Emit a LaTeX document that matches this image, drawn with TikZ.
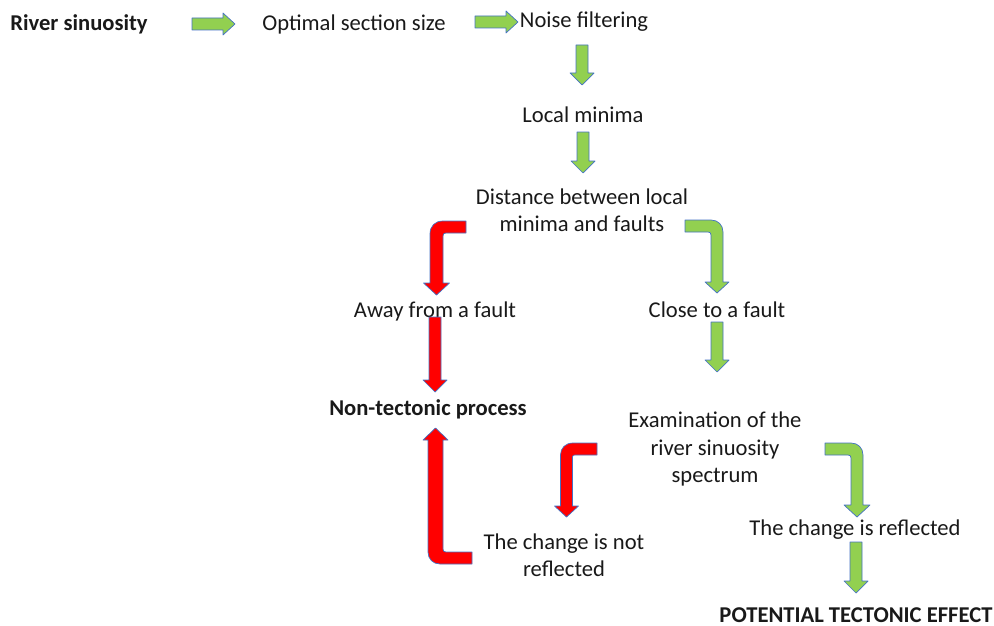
\documentclass[tikz,border=0pt]{standalone}
\usepackage{fontspec}
\setmainfont{Carlito}
\usetikzlibrary{positioning, calc}
\definecolor{arrowgreen}{RGB}{146,208,80}
\definecolor{arrowred}{RGB}{255,0,0}
\definecolor{arrowedge}{RGB}{68,114,196}

\begin{document}
\begin{tikzpicture}[x=1pt, y=-1pt,
            txt/.style={align=center, inner sep=0pt, text=black!90, font=\fontsize{22.6}{27.5}\selectfont},
            txtbold/.style={txt, font=\fontsize{22.6}{27.5}\selectfont\bfseries},
            greenblock/.style={fill=arrowgreen, draw=arrowedge, line width=0.7pt, line join=round},
            redblock/.style={fill=arrowred, draw=arrowedge, line width=0.7pt, line join=round}
        ]
            \useasboundingbox (0,0) rectangle (994,626);

            % Top row
            \node[txtbold] (river) at (79,24) {River sinuosity};
            \node[txt] (section) at (354,24) {Optimal section size};
            \node[txt] (noise) at (584,22) {Noise filtering};

            % Middle column
            \node[txt] (minima) at (583,115) {Local minima};
            \node[txt] (distance) at (582,210) {Distance between local\\minima and faults};

            % Away branch
            \node[txt] (away) at (435,311) {Away from a fault};
            \node[txtbold] (nontect) at (428,409) {Non-tectonic process};

            % Close branch
            \node[txt] (close) at (717,310) {Close to a fault};
            \node[txt] (exam) at (715,449) {Examination of the\\river sinuosity\\spectrum};
            \node[txt] (notrefl) at (564,555) {The change is not\\reflected};
            \node[txt] (refl) at (855,530) {The change is reflected};
            \node[txtbold] (effect) at (856,615) {POTENTIAL TECTONIC EFFECT};

            % Straight block arrows, right
            \foreach \xa/\xb/\y in {192/235/24, 475/518/22}
                \draw[greenblock] (\xa,{\y-6}) -- ({\xb-12},{\y-6}) -- ({\xb-12},{\y-11}) -- (\xb,\y)
                    -- ({\xb-12},{\y+11}) -- ({\xb-12},{\y+6}) -- (\xa,{\y+6}) -- cycle;

            % Straight block arrows, down
            \foreach \x/\ya/\yb/\st in {582/45/85/greenblock, 583/132/173/greenblock, 435/317/392/redblock,
                                        717/322/372/greenblock, 856/542/593/greenblock}
                \draw[\st] ({\x-6},\ya) -- ({\x+6},\ya) -- ({\x+6},{\yb-12}) -- ({\x+12},{\yb-12}) -- (\x,\yb)
                    -- ({\x-12},{\yb-12}) -- ({\x-6},{\yb-12}) -- cycle;

            % Bent arrows to the left
            \draw[redblock] (466,221) -- (443,221) .. controls (435,221) and (430,226) .. (430,234) -- (430,283)
                -- (423.5,283) -- (436.5,295) -- (449.5,283) -- (443,283) -- (443,236)
                .. controls (443,234) and (444,233) .. (446,233) -- (466,233) -- cycle;
            \draw[redblock] (597,443) -- (573,443) .. controls (565.5,443) and (560.5,448) .. (560.5,455) -- (560.5,506)
                -- (554.5,506) -- (566.5,517) -- (578.5,506) -- (572.5,506) -- (572.5,457)
                .. controls (572.5,455.5) and (573.5,455) .. (575,455) -- (597,455) -- cycle;

            % Bent arrows to the right
            \draw[greenblock] (685,220) -- (711,220) .. controls (718,220) and (723,225) .. (723,232) -- (723,282)
                -- (729,282) -- (717,293) -- (705,282) -- (711,282) -- (711,235)
                .. controls (711,233) and (710,232) .. (708,232) -- (685,232) -- cycle;
            \draw[greenblock] (825,443) -- (851,443) .. controls (858,443) and (863,448) .. (863,455) -- (863,505)
                -- (870,505) -- (857,517) -- (844,505) -- (851,505) -- (851,458)
                .. controls (851,456) and (850,455) .. (848,455) -- (825,455) -- cycle;

            % Return arrow up to the non-tectonic process
            \draw[redblock] (472,564) -- (440,564) .. controls (433,564) and (428,559) .. (428,552) -- (428,440)
                -- (423,440) -- (435.5,428) -- (448,440) -- (443,440) -- (443,549)
                .. controls (443,551) and (444,552) .. (446,552) -- (472,552) -- cycle;
        \end{tikzpicture}
\end{document}
